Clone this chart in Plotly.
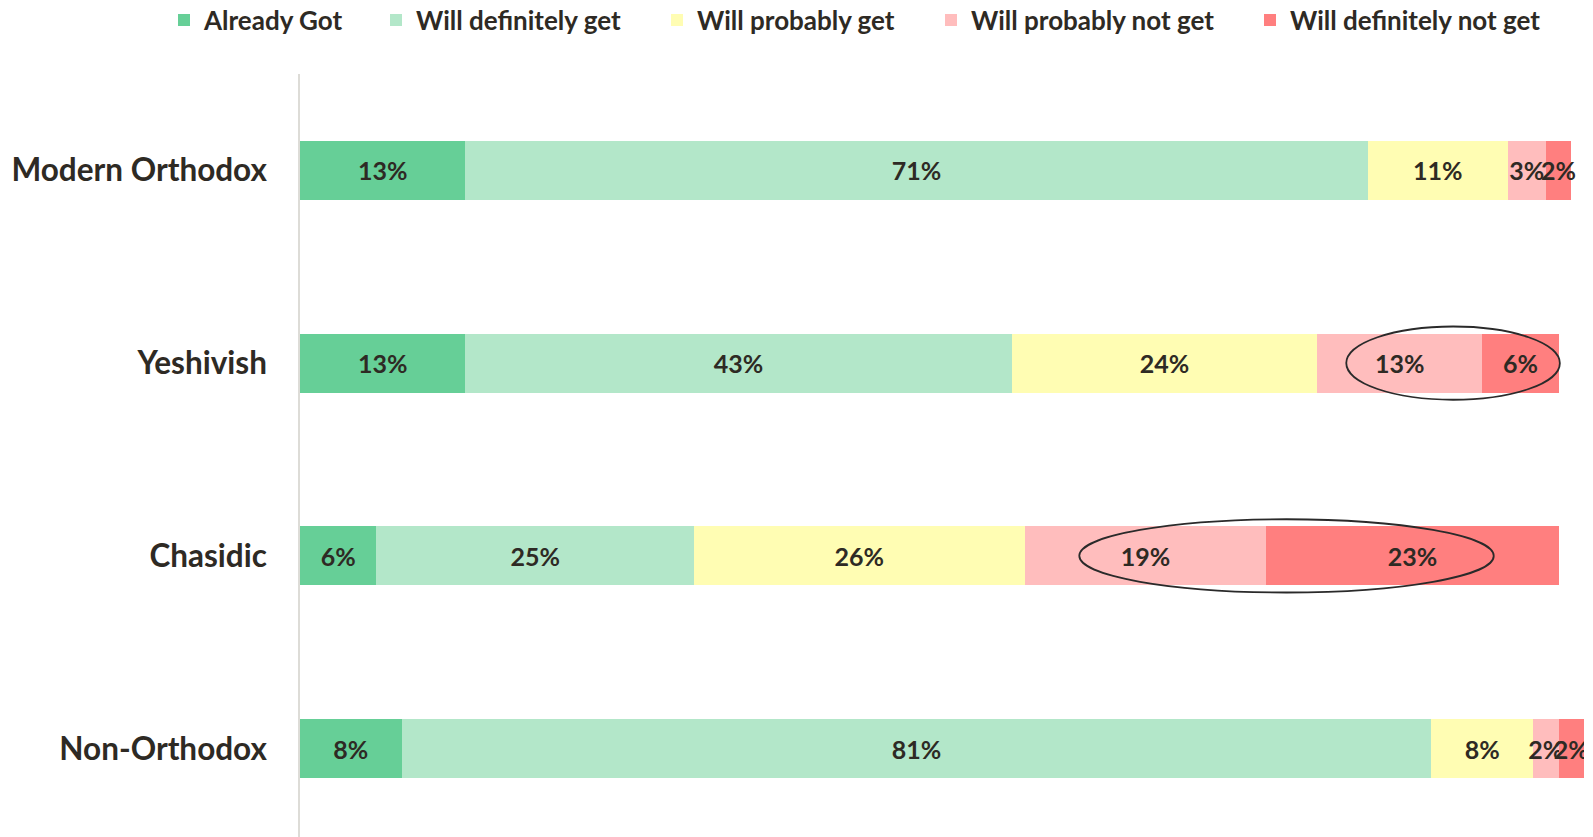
import plotly.graph_objects as go

categories = ["Modern Orthodox", "Yeshivish", "Chasidic", "Non-Orthodox"]
series_names = [
    "Already Got",
    "Will definitely get",
    "Will probably get",
    "Will probably not get",
    "Will definitely not get",
]
already_got = [13, 13, 6, 8]
definitely_get = [71, 43, 25, 81]
probably_get = [11, 24, 26, 8]
probably_not = [3, 13, 19, 2]
definitely_not = [2, 6, 23, 2]
series_values = [already_got, definitely_get, probably_get, probably_not, definitely_not]
colors = ["#66CF97", "#B3E7C9", "#FFFDB3", "#FFBDBD", "#FF7F7F"]

# circled segments: (category, x start, x end) in percent units
highlights = [("Yeshivish", 82.3, 99.1), ("Chasidic", 61.3, 93.9)]

TEXT = "#2E2A24"
FONT = "Lato"
W, H = 1593, 837
# left pixel of each legend swatch, one legend per series
legend_px = [178, 390, 671, 945, 1264]

fig = go.Figure()
layout_legends = {}
for k, (name, vals, col) in enumerate(zip(series_names, series_values, colors)):
    lg = "legend" if k == 0 else f"legend{k + 1}"
    fig.add_trace(
        go.Bar(
            y=categories, x=vals, name=name, orientation="h",
            marker=dict(color=col, line=dict(width=0)),
            text=[f"{v}%" for v in vals],
            textposition="inside", insidetextanchor="middle",
            textangle=0, constraintext="none",
            textfont=dict(family=FONT, size=25, color=TEXT, weight="bold"),
            hoverinfo="skip", legend=lg,
        )
    )
    layout_legends[lg] = dict(
        orientation="h", xref="container", yref="container",
        x=(legend_px[k] - 22) / W, y=1 - 12 / H,
        xanchor="left", yanchor="middle",
        font=dict(family=FONT, size=26, color=TEXT, weight="bold"),
        bgcolor="rgba(0,0,0,0)", itemclick=False,
    )

for cat, x0, x1 in highlights:
    i = categories.index(cat)
    fig.add_shape(
        type="circle", xref="x", yref="y",
        x0=x0, x1=x1, y0=i - 0.19, y1=i + 0.19,
        line=dict(color="#2A2A2A", width=1.8),
    )

fig.update_layout(
    barmode="stack",
    bargap=0.695,
    width=W, height=H,
    paper_bgcolor="white", plot_bgcolor="white",
    margin=dict(l=292, r=17, t=66, b=0),
    font=dict(family=FONT, color=TEXT),
    showlegend=True,
    **layout_legends,
)
fig.update_xaxes(range=[0, 101], visible=False)
fig.update_yaxes(
    autorange="reversed", showline=True, linecolor="#DDDCD7", linewidth=1.5,
    showgrid=False, ticks="", ticklabelstandoff=25,
    tickfont=dict(family=FONT, size=31.5, color=TEXT, weight="bold"),
)

fig.write_html("out.html")
